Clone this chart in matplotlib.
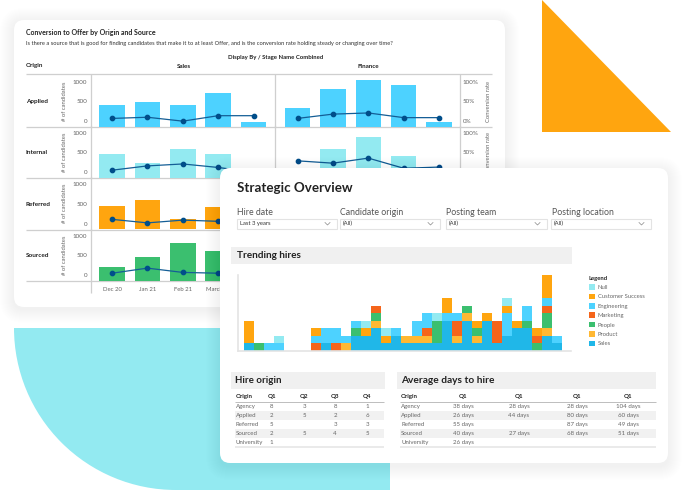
import itertools
import numpy as np
import matplotlib
matplotlib.use("Agg")
import matplotlib.pyplot as plt
from matplotlib.patches import FancyBboxPatch, Polygon, Rectangle, Wedge, Patch
from matplotlib.transforms import ScaledTranslation
from matplotlib.ticker import PercentFormatter

plt.rcParams['font.family'] = ['Lato', 'DejaVu Sans']

# ---------- data: small multiples ----------
months = ["Dec 20", "Jan 21", "Feb 21", "March 21", "April 21"]
origins = ["Applied", "Internal", "Referred", "Sourced"]
sales_counts = {
    "Applied": [563, 640, 563, 870, 128],
    "Internal": [607, 392, 750, 607, 100],
    "Referred": [600, 748, 261, 568, 100],
    "Sourced": [351, 607, 973, 760, 100],
}
sales_rates = {
    "Applied": [22, 25, 15, 29, 29],
    "Internal": [20, 31, 36, 27, 15],
    "Referred": [26, 17, 24, 21, 19],
    "Sourced": [20, 33, 22, 20, 20],
}
finance_counts = {
    "Applied": [486, 973, 1195, 1075, 128],
    "Internal": [256, 750, 1050, 563, 100],
}
finance_rates = {
    "Applied": [22, 33, 36, 24, 24],
    "Internal": [44, 38, 51, 25, 28],
}
origin_colors = {"Applied": "#4DD2FF", "Internal": "#93EAF1",
                 "Referred": "#FFA50F", "Sourced": "#3BBF6F"}

# ---------- data: trending hires (one letter per hire, bottom to top) ----------
hire_bins = [0, 1, 2, 3] + [6.7 + k for k in range(25)]
hire_stacks = ["SCCC", "O", "E", "EN", "MEC", "SEE", "MEE", "PE", "SSOE", "SSCN",
               "SSSPOM", "SCN", "SSE", "SP", "SPEE", "SPMEE", "SOOON", "SSSSECC",
               "SPMME", "SSSSPO", "SPOC", "SSSSC", "SMMM", "SSEEECN", "SSSC",
               "SSSOEE", "OMC", "SSPOOMECCC", "SE"]
team_names = {"N": "Null", "C": "Customer Success", "E": "Engineering",
              "M": "Marketing", "O": "People", "P": "Product", "S": "Sales"}
team_colors = {"N": "#93EAF1", "C": "#FFA50F", "E": "#4DD2FF", "M": "#F5651B",
               "O": "#3BBF6F", "P": "#FFB833", "S": "#20B7E8"}

# ---------- data: tables ----------
table_origins = ["Agency", "Applied", "Referred", "Sourced", "University"]
hire_headers = ["Q1", "Q2", "Q3", "Q4"]
hire_rows = [["8", "3", "8", "1"], ["2", "5", "2", "6"], ["5", "", "3", "3"],
             ["2", "5", "4", "5"], ["1", "", "", ""]]
days_headers = ["Q1", "Q1", "Q1", "Q1"]
days_rows = [["38 days", "28 days", "28 days", "104 days"],
             ["26 days", "44 days", "80 days", "60 days"],
             ["55 days", "", "87 days", "49 days"],
             ["40 days", "27 days", "68 days", "51 days"],
             ["26 days", "", "", ""]]
filter_labels = ["Hire date", "Candidate origin", "Posting team", "Posting location"]
filter_values = ["Last 3 years", "(All)", "(All)", "(All)"]

W, H = 683, 490
fig = plt.figure(figsize=(W / 100, H / 100), dpi=100)
fig.patch.set_facecolor("white")


def px_axes(x0, y0, x1, y1, z):
    a = fig.add_axes([x0 / W, 1 - y1 / H, (x1 - x0) / W, (y1 - y0) / H], zorder=z)
    a.patch.set_alpha(0)
    return a


def canvas(z):
    a = px_axes(0, 0, W, H, z)
    a.set_xlim(0, W)
    a.set_ylim(H, 0)
    a.axis("off")
    return a


def card(a, x0, y0, x1, y1, r, strength, off):
    for i in range(14, 0, -1):
        a.add_patch(FancyBboxPatch((x0 - i, y0 - i + off), x1 - x0 + 2 * i, y1 - y0 + 2 * i,
                                   boxstyle=f"round,pad=0,rounding_size={r + i}",
                                   fc="black", ec="none", alpha=strength))
    a.add_patch(FancyBboxPatch((x0, y0), x1 - x0, y1 - y0,
                               boxstyle=f"round,pad=0,rounding_size={r}", fc="white", ec="none"))


bg = canvas(0)
CY = "#93EAF1"
bg.add_patch(Polygon([(542, 0), (671, 132), (542, 132)], fc="#FFA50F", ec="none"))
bg.add_patch(Wedge((176, 328), 162, 90, 180, fc=CY, ec="none"))
bg.add_patch(Rectangle((176, 328), 214, 162, fc=CY, ec="none"))
card(bg, 14, 20, 505, 307, 10, 0.0022, 2)

DARK = "#222222"
GREY = "#666666"
LINE = "#CFCFCF"
bg.text(26, 32, "Conversion to Offer by Origin and Source", fontsize=5.05, weight="bold", color=DARK, va="center")
bg.text(26, 43, "Is there a source that is good for finding candidates that make it to at least Offer, and is the conversion rate holding steady or changing over time?",
        fontsize=4.15, color="#333333", va="center")
bg.text(275.5, 58, "Display By / Stage Name Combined", fontsize=4.35, weight="bold", color=DARK, ha="center", va="center")
bg.text(26, 66, "Origin", fontsize=4.5, weight="bold", color=DARK, va="center")
bg.text(184, 66, "Sales", fontsize=4.5, weight="bold", color=DARK, ha="center", va="center")
bg.text(368, 66, "Finance", fontsize=4.5, weight="bold", color=DARK, ha="center", va="center")
row_bottoms = [127, 178, 229.5, 281]
bg.hlines([74] + row_bottoms, 26, 492, color=LINE, lw=0.9)

label_up = ScaledTranslation(0, 6 / 100, fig.dpi_scale_trans)


def panel(x0, x1, ybot, first_center, counts, rates, color, right_axis, show_x):
    a = px_axes(x0, ybot - 52, x1, ybot, 1)
    step = 35.4
    idx = np.arange(len(counts))
    a.bar(idx, counts, width=0.72, color=color, linewidth=0)
    a.set_xlim((x0 - first_center) / step, (x1 - first_center) / step)
    a.set_ylim(0, 1333)
    for s in ("top", "right", "bottom"):
        a.spines[s].set_visible(False)
    a.spines["left"].set_color(LINE)
    a.spines["left"].set_linewidth(0.9)
    a.set_yticks([0, 500, 1000])
    a.tick_params(axis="y", length=0, labelsize=4.5, labelcolor=GREY, pad=2.5,
                  labelleft=(x0 < 100))
    a.set_xticks(idx if show_x else [])
    if show_x:
        a.set_xticklabels(months)
    a.tick_params(axis="x", length=0, labelsize=4.3, labelcolor=GREY, pad=4)
    for lab in a.get_yticklabels():
        lab.set_transform(lab.get_transform() + label_up)
    t = a.twinx()
    t.patch.set_alpha(0)
    t.plot(idx, rates, color="#145E96", lw=0.9, marker="o", ms=3.1, mfc="#004E8A", mec="#004E8A")
    t.set_ylim(0, 133.3)
    for s in t.spines.values():
        s.set_visible(False)
    if right_axis:
        t.spines["right"].set_visible(True)
        t.spines["right"].set_color(LINE)
        t.spines["right"].set_linewidth(0.9)
        t.set_yticks([0, 50, 100])
        t.yaxis.set_major_formatter(PercentFormatter(100, decimals=0))
        t.tick_params(axis="y", length=0, labelsize=4.5, labelcolor=GREY, pad=2)
        for lab in t.get_yticklabels():
            lab.set_transform(lab.get_transform() + label_up)
    else:
        t.set_yticks([])
    return a


for o, yb in zip(origins, row_bottoms):
    panel(90.5, 275, yb, 112, sales_counts[o], sales_rates[o], origin_colors[o], False, o == "Sourced")
    if o in finance_counts:
        panel(275, 460, yb, 297.5, finance_counts[o], finance_rates[o], origin_colors[o], True, False)
        bg.text(489, yb - 25.5, "Conversion rate", rotation=90, fontsize=4.2, color=GREY, ha="center", va="center")
    bg.text(26, yb - 25.5, o, fontsize=4.6, weight="bold", color=DARK, va="center")
    bg.text(64, yb - 26, "# of candidates", rotation=90, fontsize=4.2, color=GREY, ha="center", va="center")
bg.vlines(90.5, 281, 293, color=LINE, lw=0.9)

# ---------- front dashboard ----------
top = canvas(5)
card(top, 220, 168, 668, 463, 10, 0.0045, 3)
top.text(237, 188, "Strategic Overview", fontsize=9.6, weight="bold", color=DARK, va="center")
for lab, val, x0, lx, x1 in zip(filter_labels, filter_values, [237, 340, 446, 551],
                                [237, 340, 446, 552], [337, 440, 547, 651]):
    top.text(lx, 212, lab, fontsize=6.3, color="#555555", va="center")
    top.add_patch(Rectangle((x0, 218.5), x1 - x0, 10.5, fc="white", ec="#E3E3E3", lw=0.8))
    top.text(x0 + 2.5, 223.8, val, fontsize=4.2, color="#333333", va="center")
    top.plot([x1 - 12, x1 - 9.5, x1 - 7], [222.5, 225, 222.5], color="#888888", lw=0.5)


def band(x0, x1, y0, y1, title, tx, size):
    top.add_patch(Rectangle((x0, y0), x1 - x0, y1 - y0, fc="#F0F0F0", ec="none"))
    top.text(tx, (y0 + y1) / 2, title, fontsize=size, weight="bold", color=DARK, va="center")


band(231, 572, 247, 264, "Trending hires", 237, 7.2)
band(231, 385, 372.3, 389, "Hire origin", 235, 7.0)
band(396.7, 656, 372.3, 389, "Average days to hire", 401, 7.3)

# trending hires stacked bars
h = px_axes(237.7, 275, 571, 351, 6)
step = 10.03
for b, stack in zip(hire_bins, hire_stacks):
    base = 0
    for code, run in itertools.groupby(stack):
        n = len(list(run))
        h.bar(b, n, bottom=base, width=1.0, align="edge", color=team_colors[code], linewidth=0)
        base += n
h.set_xlim((237.7 - 244) / step, (571 - 244) / step)
h.set_ylim(0, 10.05)
h.set_xticks([])
h.set_yticks([])
for s in ("top", "right"):
    h.spines[s].set_visible(False)
for s in ("left", "bottom"):
    h.spines[s].set_color("#E4E4E4")
    h.spines[s].set_linewidth(1.2)
handles = [Patch(fc=team_colors[c], ec="none", label=team_names[c]) for c in team_names]
leg = h.legend(handles=handles, title="Legend", loc="upper left", frameon=False,
               bbox_to_anchor=(588.5 / W, 1 - 275.5 / H), bbox_transform=fig.transFigure,
               fontsize=4.2, title_fontsize=4.2, handlelength=1.1, handleheight=1.1,
               handletextpad=0.45, labelspacing=0.62, borderpad=0, borderaxespad=0,
               labelcolor=GREY)
leg._legend_box.align = "left"
leg.get_title().set_weight("bold")
leg.get_title().set_color(DARK)


def table(x0, x1, origin_x, col_x, headers, rows):
    top.add_patch(Rectangle((x0, 411), x1 - x0, 9, fc="#F1F1F1", ec="none"))
    top.add_patch(Rectangle((x0, 429), x1 - x0, 9, fc="#F1F1F1", ec="none"))
    top.hlines(402.3, x0, x1, color="#BDBDBD", lw=0.7)
    top.hlines(446.7, x0, x1, color="#E6E6E6", lw=1.2)
    top.text(origin_x, 396.7, "Origin", fontsize=4.4, weight="bold", color=DARK, va="center")
    for cx, hd in zip(col_x, headers):
        top.text(cx, 396.7, hd, fontsize=4.4, weight="bold", color=DARK, ha="center", va="center")
    for y, name, row in zip([406.3, 415, 424, 433, 442], table_origins, rows):
        top.text(origin_x, y, name, fontsize=4.4, color=GREY, va="center")
        for cx, v in zip(col_x, row):
            top.text(cx, y, v, fontsize=4.4, color=GREY, ha="center", va="center")


table(235, 383.7, 236, [271.7, 304, 335, 367], hire_headers, hire_rows)
table(400, 656, 401, [463, 519, 577, 628], days_headers, days_rows)

fig.savefig("out.png", dpi=100)
